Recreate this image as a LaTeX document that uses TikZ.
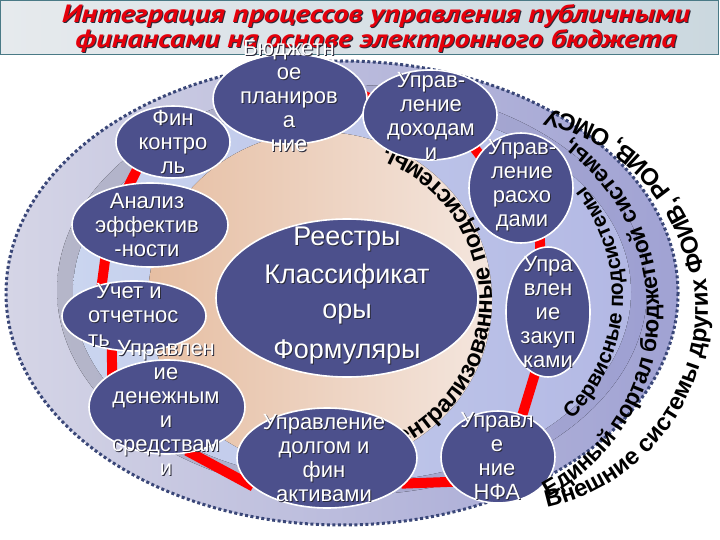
\documentclass[tikz,border=0pt]{standalone}
\usepackage{fontspec}
\setmainfont{Liberation Sans}
\newfontfamily\titlefont{PT Sans}
\newfontfamily\ringfam{Liberation Sans Bold}
\usepackage{tikz}
\usetikzlibrary{shapes.geometric,decorations.text,calc}
\pgfdeclarelayer{back}
\pgfdeclarelayer{mid}
\pgfsetlayers{back,mid,main}

\definecolor{blobfill}{HTML}{4C508C}
\definecolor{peachL}{HTML}{E6BEA2}
\definecolor{peachR}{HTML}{F4E6DE}
\definecolor{ringOL}{HTML}{D5D5E6}
\definecolor{ringOR}{HTML}{A0A2D3}
\definecolor{bandL}{HTML}{B5B6C9}
\definecolor{bandR}{HTML}{9EA0D2}
\definecolor{innerL}{HTML}{CAD5EF}
\definecolor{innerR}{HTML}{B3B8E4}
\definecolor{dotc}{HTML}{3A4778}
\definecolor{titlered}{HTML}{E5000B}
\definecolor{shadowc}{HTML}{2A2A3A}
\definecolor{barL}{HTML}{E6EAED}
\definecolor{barR}{HTML}{CBD8DF}
\definecolor{baredge}{HTML}{4A7A86}

\newcommand{\sh}[1]{\leavevmode\rlap{\kern1pt\raisebox{-1pt}{\textcolor{shadowc}{#1}}}#1}
\newcommand{\ringfont}[1]{\ringfam\fontsize{#1}{#1}\selectfont}

\tikzset{
  blob/.style={ellipse, draw=white, line width=1.6pt, fill=blobfill, inner sep=0pt},
  lbl/.style={text=white, align=center, inner sep=0pt, font=\fontsize{22}{24}\selectfont},
  bigl/.style={lbl, font=\fontsize{27}{35}\selectfont},
  link/.style={draw=red, line width=10pt, shorten <=-4pt, shorten >=-4pt},
  ringtext/.style={decorate, decoration={text along path, text align=center, text color=black}},
  titlebar/.style={draw=baredge, line width=1pt, left color=barL, right color=barR},
  titletxt/.style={text=titlered, align=center, inner sep=0pt,
    font=\titlefont\bfseries\itshape\fontsize{25}{23}\selectfont},
}

\begin{document}
\begin{tikzpicture}[x=1pt,y=-1pt]
\useasboundingbox (0,0) rectangle (720,540);

% title
\draw[titlebar] (0.5,0.5) rectangle (718,55);
\node[titletxt] (title) at (376,29) {\sh{\resizebox{628pt}{\height}{Интеграция процессов управления публичными}}\\
  \sh{\resizebox{601pt}{\height}{финансами на основе электронного бюджета}}};

% rings and central field
\begin{pgfonlayer}{back}
\draw[left color=ringOL, right color=ringOR, draw=dotc, line width=3pt, dash pattern=on 3pt off 2.5pt]
  (342,293) ellipse [x radius=336, y radius=232];
\fill[left color=bandL, right color=bandR] (352,290) ellipse [x radius=295, y radius=205];
\fill[left color=innerL, right color=innerR] (352,292) ellipse [x radius=279, y radius=190];
\fill[left color=peachL, right color=peachR] (320,300) ellipse [x radius=172, y radius=168];
\path[ringtext, decoration={text={|\ringfont{24}|Централизованные подсистемы,}}]
  (331,301) ++(92:161) arc[start angle=92, end angle=-92, radius=161];
\end{pgfonlayer}

% modules
\node[blob, minimum width=154, minimum height=90] (plan) at (290,99) {};
\node[blob, minimum width=134, minimum height=90] (doh) at (430,115) {};
\node[blob, minimum width=104, minimum height=110] (ras) at (521,188) {};
\node[blob, minimum width=84, minimum height=130] (zak) at (548,312) {};
\node[blob, minimum width=114, minimum height=92] (nfa) at (498,457) {};
\node[blob, minimum width=180, minimum height=100] (dolg) at (327,458) {};
\node[blob, minimum width=156, minimum height=94] (den) at (167,407) {};
\node[blob, minimum width=144, minimum height=70] (ucht) at (134,316) {};
\node[blob, minimum width=156, minimum height=84] (anal) at (150,225) {};
\node[blob, minimum width=114, minimum height=72] (fin) at (173,142) {};
\node[blob, minimum width=262, minimum height=158] (reestr) at (347,298) {};

\node[lbl] (plan-t) at (289,97) {\sh{Бюджетн}\\\sh{ое}\\\sh{планиров}\\\sh{а}\\\sh{ние}};
\node[lbl] (doh-t) at (431,116) {\sh{Управ-}\\\sh{ление}\\\sh{доходам}\\\sh{и}};
\node[lbl] (ras-t) at (522,186) {\sh{Управ-}\\\sh{ление}\\\sh{расхо}\\\sh{дами}};
\node[lbl] (zak-t) at (548,313) {\sh{Упра}\\\sh{влен}\\\sh{ие}\\\sh{закуп}\\\sh{ками}};
\node[lbl] (nfa-t) at (497,456) {\sh{Управл}\\\sh{е}\\\sh{ние}\\\sh{НФА}};
\node[lbl] (dolg-t) at (324,459) {\sh{Управление}\\\sh{долгом и}\\\sh{фин}\\\sh{активами}};
\node[lbl] (den-t) at (166,408) {\sh{Управлен}\\\sh{ие}\\\sh{денежным}\\\sh{и}\\\sh{средствам}\\\sh{и}};
\node[lbl, align=left, anchor=west] (ucht-t) at (88,315) {\sh{\kern8pt Учет и}\\\sh{отчетнос}\\\sh{ть}};
\node[lbl] (anal-t) at (147,226) {\sh{Анализ}\\\sh{эффектив}\\\sh{-ности}};
\node[lbl] (fin-t) at (173,142) {\sh{Фин}\\\sh{контро}\\\sh{ль}};
\node[bigl] (reestr-t) at (347,296) {\sh{Реестры}\\[3pt]\sh{Классификат}\\\sh{оры}\\[5pt]\sh{Формуляры}};

% red links
\begin{pgfonlayer}{mid}
\foreach \a/\b in {fin.218/anal.116, anal.218/ucht.135, ucht.237/den.148, den.297/dolg.199,
  dolg.342/nfa.207, nfa.60/zak.258, zak.97/ras.290, ras.141/doh.323, doh.167/plan.2}
  \draw[link] (\a) -- (\b);
\end{pgfonlayer}

% outer captions
\path[ringtext, decoration={text={|\ringfont{21}|Сервисные подсистемы}}]
  (448,296) ++(73:175) arc[start angle=73, end angle=-67, radius=175];
\path[ringtext, decoration={text={|\ringfont{23}|Единый портал бюджетной системы,}}]
  (447,311) ++(83:212) arc[start angle=83, end angle=-76, radius=212];
\path[ringtext, decoration={text={|\ringfont{24}|Внешние системы других ФОИВ, РОИВ, ОМСУ}}]
  (504,308) ++(85:204) arc[start angle=85, end angle=-85, radius=204];

\end{tikzpicture}
\end{document}
